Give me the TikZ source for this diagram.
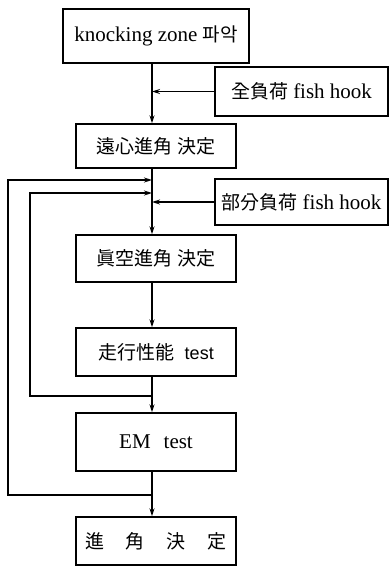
\documentclass[tikz,border=0pt]{standalone}
\usepackage{fontspec}
\setmainfont{Liberation Serif}
\newfontfamily\kr{Noto Sans CJK KR}
\newfontfamily\ssf{Liberation Sans}
\usetikzlibrary{arrows.meta}
\begin{document}
\begin{tikzpicture}[x=1pt,y=-1pt,
  box/.style={draw,line width=1.4pt,rectangle,inner sep=0pt,font=\fontsize{21}{23}\selectfont},
  conn/.style={line width=1.3pt},
  arr/.style={conn,-{Stealth[length=8pt,width=5pt]}}]
\newcommand\hj[1]{{\kr\fontsize{19}{21}\selectfont #1}}
\useasboundingbox (0,0) rectangle (390,566);
\node[box,minimum width=186pt,minimum height=54pt] (b1) at (156,36) {knocking\ zone\ \hj{파악}};
\node[box,minimum width=173pt,minimum height=49pt] (f1) at (301.5,91.5) {\hj{全負荷}\ fish\ hook};
\node[box,minimum width=160pt,minimum height=44pt] (b2) at (156,146) {\hj{遠心進角\ 決定}};
\node[box,minimum width=173pt,minimum height=46pt] (f2) at (301.5,202) {\hj{部分負荷}\ fish\ hook};
\node[box,minimum width=160pt,minimum height=47pt] (b3) at (156,258.5) {\hj{眞空進角\ 決定}};
\node[box,minimum width=160pt,minimum height=48pt] (b4) at (156,352) {\hj{走行性能}\ \ {\ssf\fontsize{18}{20}\selectfont test}};
\node[box,minimum width=160pt,minimum height=58pt] (b5) at (156,442) {EM\hspace{13pt}test};
\node[box,minimum width=160pt,minimum height=48pt] (b6) at (156,541) {\hj{進\hspace{22pt}角\hspace{22pt}決\hspace{22pt}定}};
\coordinate (mx) at (152,0);
\coordinate (o1) at (8,180);
\coordinate (o2) at (30,193);
\coordinate (o3) at (30,396);
\coordinate (o4) at (8,495);
\draw[arr] (b1.south -| mx) -- (b2.north -| mx);
\draw[arr] (f1.west) -- (f1.west -| mx);
\draw[arr] (b2.south -| mx) -- (b3.north -| mx);
\draw[arr] (f2.west) -- (f2.west -| mx);
\draw[arr] (b3.south -| mx) -- (b4.north -| mx);
\draw[arr] (b4.south -| mx) -- (b5.north -| mx);
\draw[arr] (b5.south -| mx) -- (b6.north -| mx);
\draw[arr] (o3 -| mx) -- (o3) -- (o2) -- (o2 -| mx);
\draw[arr] (o4 -| mx) -- (o4) -- (o1) -- (o1 -| mx);
\end{tikzpicture}
\end{document}
